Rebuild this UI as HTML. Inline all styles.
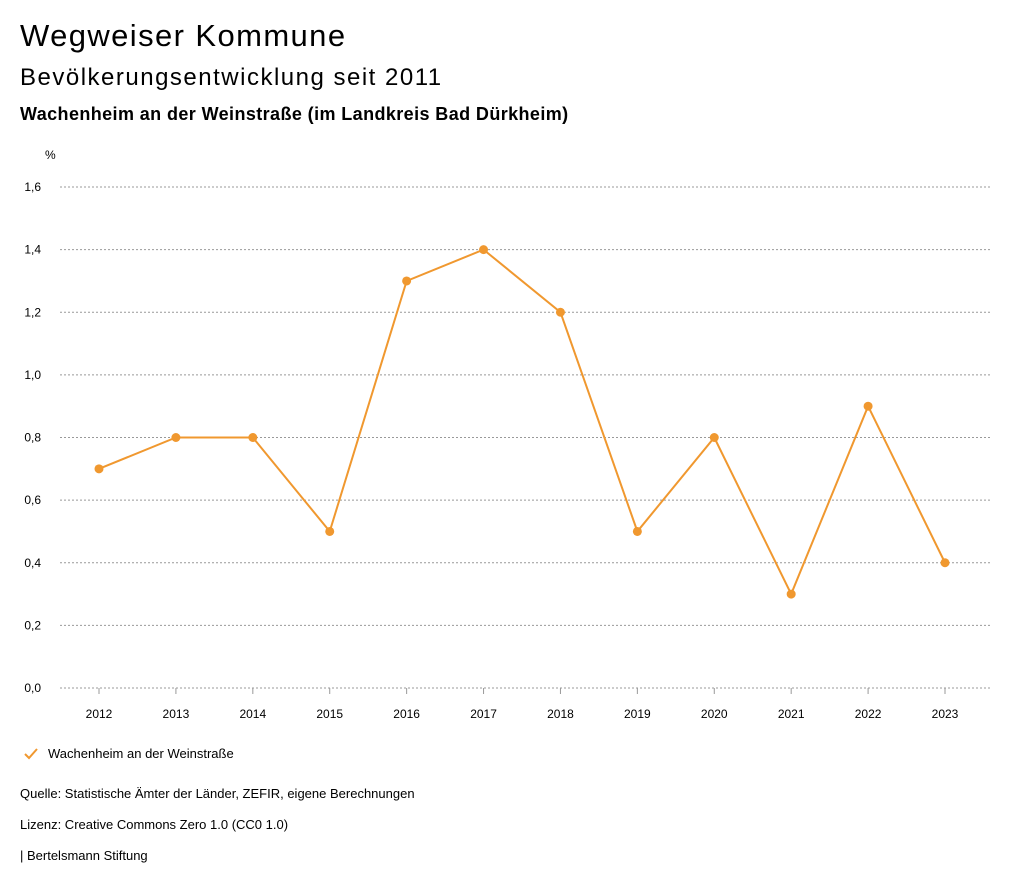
<!DOCTYPE html>
<html><head><meta charset="utf-8">
<style>
body{margin:0;width:1024px;height:888px;background:#fff;font-family:"Liberation Sans",sans-serif;color:#000;position:relative;overflow:hidden}
.t{position:absolute;white-space:nowrap}
</style></head><body>
<div class="t" style="left:20px;top:18px;font-size:31px;letter-spacing:1.4px">Wegweiser Kommune</div>
<div class="t" style="left:20px;top:64px;font-size:24px;letter-spacing:1.5px">Bevölkerungsentwicklung seit 2011</div>
<div class="t" style="left:20px;top:104px;font-size:18px;font-weight:bold;letter-spacing:0.4px">Wachenheim an der Weinstraße (im Landkreis Bad Dürkheim)</div>
<svg id="chart" width="1024" height="740" style="position:absolute;left:0;top:0"></svg>
<svg width="14" height="12" style="position:absolute;left:24px;top:748px"><polyline points="1,6 5,10 13,1" fill="none" stroke="#f0982f" stroke-width="2"/></svg>
<div class="t" style="left:48px;top:746px;font-size:13px">Wachenheim an der Weinstraße</div>
<div class="t" style="left:20px;top:786px;font-size:13px">Quelle: Statistische Ämter der Länder, ZEFIR, eigene Berechnungen</div>
<div class="t" style="left:20px;top:817px;font-size:13px">Lizenz: Creative Commons Zero 1.0 (CC0 1.0)</div>
<div class="t" style="left:20px;top:848px;font-size:13px">| Bertelsmann Stiftung</div>
<script>
const years=["2012","2013","2014","2015","2016","2017","2018","2019","2020","2021","2022","2023"];
const values=[0.7,0.8,0.8,0.5,1.3,1.4,1.2,0.5,0.8,0.3,0.9,0.4];
const yTicks=[0,0.2,0.4,0.6,0.8,1.0,1.2,1.4,1.6];
const NS="http://www.w3.org/2000/svg";
const svg=document.getElementById('chart');
const x=i=>99+i*(945-99)/11;
const y=v=>688-v*(688-187)/1.6;
function mk(t,a){const e=document.createElementNS(NS,t);for(const k in a)e.setAttribute(k,a[k]);svg.appendChild(e);return e;}
const pc=mk('text',{x:45,y:159,'font-size':12,fill:'#000'});pc.textContent='%';


yTicks.forEach(v=>{
  const l=mk('line',{x1:60,x2:990,y1:y(v),y2:y(v),stroke:'#999','stroke-dasharray':'2,2','stroke-width':1});
  
  
  const t=mk('text',{x:41,y:y(v)+4,'font-size':12,'text-anchor':'end'});
  t.textContent=v.toFixed(1).replace('.',',');
  
  
});
years.forEach((yr,i)=>{
  const tk=mk('line',{x1:x(i),x2:x(i),y1:688,y2:694,stroke:'#999'});
  
  
  const t=mk('text',{x:x(i),y:718,'font-size':12,'text-anchor':'middle'});
  t.textContent=yr;
  
  
});
const p=mk('polyline',{points:values.map((v,i)=>x(i)+','+y(v)).join(' '),fill:'none',stroke:'#f0982f','stroke-width':2});


values.forEach((v,i)=>{
  const c=mk('circle',{cx:x(i),cy:y(v),r:4.5,fill:'#f0982f'});
  
  
});
</script>
</body></html>
